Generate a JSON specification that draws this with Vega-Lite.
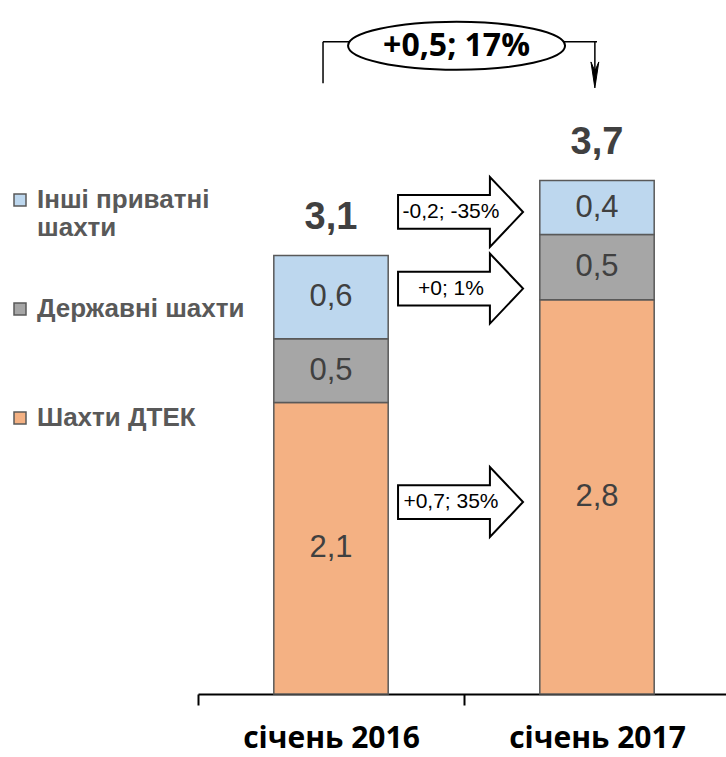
{
  "$schema": "https://vega.github.io/schema/vega-lite/v6.json",
  "width": 528,
  "height": 694,
  "autosize": {"type": "none"},
  "padding": {"left": 198, "top": 0, "right": 0, "bottom": 63},
  "background": "white",
  "config": {"view": {"stroke": null}, "legend": {"labelFontWeight": "bold"}},
  "datasets": {
    "bars": [
      {"period": "січень 2016", "type": "Шахти ДТЕК", "ord": 1, "value": 2.10, "label": "2,1"},
      {"period": "січень 2016", "type": "Державні шахти", "ord": 2, "value": 0.46, "label": "0,5"},
      {"period": "січень 2016", "type": "Інші приватні шахти", "ord": 3, "value": 0.60, "label": "0,6"},
      {"period": "січень 2017", "type": "Шахти ДТЕК", "ord": 1, "value": 2.84, "label": "2,8"},
      {"period": "січень 2017", "type": "Державні шахти", "ord": 2, "value": 0.47, "label": "0,5"},
      {"period": "січень 2017", "type": "Інші приватні шахти", "ord": 3, "value": 0.39, "label": "0,4"}
    ],
    "totals": [
      {"period": "січень 2016", "total": 3.16, "label": "3,1"},
      {"period": "січень 2017", "total": 3.70, "label": "3,7"}
    ],
    "arrows": [
      {"period": "січень 2016", "level": 3.473, "text": "-0,2; -35%"},
      {"period": "січень 2016", "level": 2.921, "text": "+0; 1%"},
      {"period": "січень 2016", "level": 1.383, "text": "+0,7; 35%"}
    ],
    "change": [
      {"from": "січень 2016", "to": "січень 2017", "label": "+0,5; 17%"}
    ]
  },
  "layer": [
    {
      "data": {"name": "bars"},
      "mark": {"type": "bar", "stroke": "#595959", "strokeWidth": 1.5, "width": {"band": 0.43}},
      "encoding": {
        "x": {
          "field": "period", "type": "nominal", "sort": null,
          "scale": {"domain": ["січень 2016", "січень 2017"], "range": [0, 532], "paddingInner": 0, "paddingOuter": 0},
          "axis": {
            "title": null, "domainColor": "black", "domainWidth": 2, "tickColor": "black", "tickWidth": 2,
            "tickSize": 11, "tickBand": "extent", "labelFont": "Open Sans", "labelFontWeight": "bold",
            "labelFontSize": 30, "labelColor": "black", "labelPadding": 18, "labelAngle": 0, "labelLimit": 400, "grid": false
          }
        },
        "y": {"field": "value", "type": "quantitative", "stack": "zero", "scale": {"domain": [0, 5], "nice": false}, "axis": null},
        "color": {
          "field": "type", "type": "nominal",
          "scale": {"domain": ["Інші приватні шахти", "Державні шахти", "Шахти ДТЕК"], "range": ["#BDD7EE", "#A6A6A6", "#F4B183"]},
          "legend": {
            "orient": "none", "legendX": -191, "legendY": 187, "title": null,
            "symbolType": "square", "symbolSize": 144, "symbolStrokeColor": "#595959", "symbolStrokeWidth": 1.5,
            "symbolOpacity": 1, "labelFont": "Liberation Sans", "labelFontWeight": "bold", "labelFontSize": 26,
            "labelColor": "#595959", "labelOffset": 4, "labelLimit": 400, "rowPadding": 55,
            "labelExpr": "datum.label == 'Інші приватні шахти' ? ['Інші приватні', 'шахти'] : datum.label == 'Державні шахти' ? ['Державні шахти', ''] : datum.label",
            "encode": {"labels": {"update": {"fontWeight": {"value": "bold"}}}}
          }
        },
        "order": {"field": "ord", "type": "quantitative"}
      }
    },
    {
      "data": {"name": "bars"},
      "transform": [
        {"stack": "value", "groupby": ["period"], "sort": [{"field": "ord", "order": "ascending"}], "as": ["lo", "hi"]},
        {"calculate": "(datum.lo + datum.hi) / 2", "as": "mid"}
      ],
      "mark": {"type": "text", "font": "Liberation Sans", "fontSize": 31, "color": "#404040", "baseline": "middle"},
      "encoding": {
        "x": {"field": "period", "type": "nominal", "sort": null},
        "y": {"field": "mid", "type": "quantitative"},
        "text": {"field": "label"}
      }
    },
    {
      "data": {"name": "totals"},
      "mark": {"type": "text", "font": "Liberation Sans", "fontWeight": "bold", "fontSize": 38, "color": "#404040", "baseline": "middle", "dy": -37},
      "encoding": {
        "x": {"field": "period", "type": "nominal", "sort": null},
        "y": {"field": "total", "type": "quantitative"},
        "text": {"field": "label"}
      }
    },
    {
      "data": {"name": "arrows"},
      "mark": {"type": "point", "shape": "M -1 -0.27 L 0.47 -0.27 L 0.47 -0.56 L 1 0 L 0.47 0.56 L 0.47 0.27 L -1 0.27 Z", "size": 15625, "filled": true, "fill": "white", "stroke": "black", "strokeWidth": 2, "opacity": 1},
      "encoding": {
        "x": {"field": "period", "type": "nominal", "sort": null, "bandPosition": 0.987},
        "y": {"field": "level", "type": "quantitative"}
      }
    },
    {
      "data": {"name": "arrows"},
      "mark": {"type": "text", "font": "Liberation Sans", "fontSize": 21, "color": "black", "baseline": "middle"},
      "encoding": {
        "x": {"field": "period", "type": "nominal", "sort": null, "bandPosition": 0.951},
        "y": {"field": "level", "type": "quantitative"},
        "text": {"field": "text"}
      }
    },
    {
      "data": {"name": "change"},
      "mark": {"type": "rule", "color": "black", "strokeWidth": 1.5},
      "encoding": {
        "x": {"field": "from", "type": "nominal", "sort": null, "bandPosition": 0.47},
        "x2": {"field": "to"},
        "y": {"datum": 4.70}
      }
    },
    {
      "data": {"name": "change"},
      "mark": {"type": "rule", "color": "black", "strokeWidth": 1.5},
      "encoding": {
        "x": {"field": "from", "type": "nominal", "sort": null, "bandPosition": 0.47},
        "y": {"datum": 4.40},
        "y2": {"datum": 4.70}
      }
    },
    {
      "data": {"name": "change"},
      "mark": {"type": "rule", "color": "black", "strokeWidth": 1.5},
      "encoding": {
        "x": {"field": "to", "type": "nominal", "sort": null, "bandPosition": 0.492},
        "y": {"datum": 4.40},
        "y2": {"datum": 4.70}
      }
    },
    {
      "data": {"name": "change"},
      "mark": {"type": "point", "shape": "M -0.3 -1 L 0 1 L 0.3 -1 L 0 -0.3 Z", "size": 676, "filled": true, "fill": "black", "stroke": "black", "strokeWidth": 1, "opacity": 1},
      "encoding": {
        "x": {"field": "to", "type": "nominal", "sort": null, "bandPosition": 0.492},
        "y": {"datum": 4.46}
      }
    },
    {
      "data": {"name": "change"},
      "mark": {"type": "point", "shape": "M -1 0 A 1 0.221 0 1 1 1 0 A 1 0.221 0 1 1 -1 0 Z", "size": 47089, "filled": true, "fill": "white", "stroke": "black", "strokeWidth": 2, "opacity": 1},
      "encoding": {
        "x": {"field": "from", "type": "nominal", "sort": null, "bandPosition": 0.972},
        "y": {"datum": 4.67}
      }
    },
    {
      "data": {"name": "change"},
      "mark": {"type": "text", "font": "Open Sans", "fontWeight": "bold", "fontSize": 32, "color": "black", "baseline": "middle"},
      "encoding": {
        "x": {"field": "from", "type": "nominal", "sort": null, "bandPosition": 0.972},
        "y": {"datum": 4.67},
        "text": {"field": "label"}
      }
    }
  ]
}
